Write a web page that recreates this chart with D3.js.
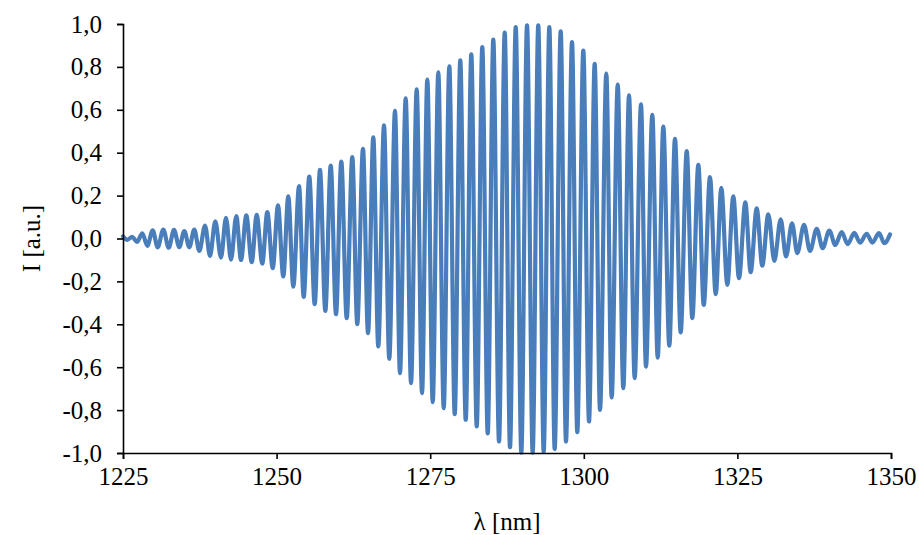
<!DOCTYPE html>
<html>
<head>
<meta charset="utf-8">
<script src="https://cdn.jsdelivr.net/npm/d3@7/dist/d3.min.js"></script>
<style>
  html, body { margin: 0; padding: 0; background: #ffffff; }
  svg { display: block; }
  text { font-family: "Liberation Serif", "Times New Roman", serif; fill: #000; }
</style>
</head>
<body>
<svg id="chart" width="919" height="535"></svg>
<script>
// Extrema of the fringe signal (wavelength in nm, intensity in a.u.)
const wavelength = [
  1225.00, 1225.70, 1226.51, 1227.28, 1228.14, 1228.96, 1229.83, 1230.65, 1231.56, 1232.44,
  1233.30, 1234.16, 1234.98, 1235.79, 1236.60, 1237.42, 1238.35, 1239.16, 1240.02, 1240.95,
  1241.76, 1242.58, 1243.44, 1244.21, 1245.07, 1245.95, 1246.76, 1247.67, 1248.49, 1249.37,
  1250.23, 1251.09, 1251.90, 1252.72, 1253.65, 1254.41, 1255.32, 1256.20, 1257.06, 1257.93,
  1258.81, 1259.67, 1260.53, 1261.41, 1262.32, 1263.13, 1264.06, 1264.88, 1265.74, 1266.55,
  1267.48, 1268.34, 1269.27, 1270.08, 1271.01, 1271.88, 1272.80, 1273.67, 1274.53, 1275.41,
  1276.32, 1277.20, 1278.11, 1278.99, 1279.90, 1280.78, 1281.69, 1282.57, 1283.48, 1284.36,
  1285.27, 1286.20, 1287.13, 1287.99, 1288.92, 1289.83, 1290.76, 1291.68, 1292.59, 1293.47,
  1294.39, 1295.26, 1296.24, 1297.10, 1298.08, 1298.94, 1299.92, 1300.85, 1301.77, 1302.64,
  1303.66, 1304.54, 1305.52, 1306.43, 1307.36, 1308.28, 1309.31, 1310.12, 1311.15, 1312.03,
  1312.94, 1313.92, 1314.84, 1315.77, 1316.75, 1317.66, 1318.64, 1319.52, 1320.54, 1321.47,
  1322.38, 1323.36, 1324.33, 1325.26, 1326.29, 1327.16, 1328.14, 1329.05, 1330.03, 1331.01,
  1332.05, 1332.91, 1333.89, 1334.75, 1335.84, 1336.82, 1337.91, 1338.88, 1339.96, 1340.93,
  1341.97, 1342.95, 1344.03, 1344.95, 1346.05, 1346.96, 1348.05, 1348.91, 1349.84
];
const intensity = [
   0.010, -0.006,  0.008, -0.016,  0.024, -0.034,  0.038, -0.041,  0.042, -0.043,
   0.040, -0.040,  0.035, -0.041,  0.042, -0.058,  0.060, -0.081,  0.080, -0.089,
   0.096, -0.099,  0.105, -0.100,  0.108, -0.110,  0.110, -0.117,  0.123, -0.138,
   0.154, -0.177,  0.197, -0.225,  0.244, -0.272,  0.289, -0.306,  0.320, -0.337,
   0.340, -0.353,  0.359, -0.371,  0.379, -0.399,  0.418, -0.441,  0.472, -0.503,
   0.527, -0.561,  0.595, -0.628,  0.653, -0.674,  0.695, -0.721,  0.741, -0.763,
   0.775, -0.791,  0.803, -0.819,  0.830, -0.845,  0.858, -0.876,  0.892, -0.909,
   0.927, -0.946,  0.960, -0.973,  0.985, -0.998,  0.994, -0.998,  0.994, -0.993,
   0.985, -0.981,  0.966, -0.946,  0.916, -0.903,  0.876, -0.853,  0.814, -0.799,
   0.769, -0.741,  0.718, -0.698,  0.667, -0.651,  0.625, -0.597,  0.577, -0.555,
   0.522, -0.500,  0.465, -0.438,  0.407, -0.371,  0.343, -0.309,  0.286, -0.260,
   0.236, -0.216,  0.197, -0.185,  0.168, -0.157,  0.141, -0.126,  0.113, -0.104,
   0.089, -0.084,  0.071, -0.068,  0.064, -0.058,  0.045, -0.045,  0.037, -0.030,
   0.030, -0.026,  0.026, -0.019,  0.022, -0.019,  0.025, -0.022,  0.019
];
const xTicks = [1225, 1250, 1275, 1300, 1325, 1350];
const yTicks = [-1.0, -0.8, -0.6, -0.4, -0.2, 0.0, 0.2, 0.4, 0.6, 0.8, 1.0];
const xTitle = "λ [nm]";
const yTitle = "I [a.u.]";

const svg = d3.select("#chart");
const margin = { left: 123, right: 28, top: 24, bottom: 82 };
const W = 919, H = 535;

const x = d3.scaleLinear().domain([1225, 1350]).range([margin.left, W - margin.right]);
const y = d3.scaleLinear().domain([-1, 1]).range([H - margin.bottom, margin.top]);

const loc = d3.formatLocale({ decimal: ",", thousands: ".", grouping: [3], currency: ["", ""], minus: "-" });
const fmtY = loc.format(".1f");

const data = wavelength.map((w, i) => ({ w: w, v: intensity[i] }));

// line
const line = d3.line()
  .x(d => x(d.w))
  .y(d => y(d.v))
  .curve(d3.curveMonotoneX);

svg.append("path")
  .datum(data)
  .attr("d", line)
  .attr("fill", "none")
  .attr("stroke", "#4a7ebb")
  .attr("stroke-width", 4.2)
  .attr("stroke-linejoin", "round")
  .attr("stroke-linecap", "round");

// axes
const fontSize = 25;
const yAxis = svg.append("g")
  .attr("transform", `translate(${margin.left},0)`)
  .call(d3.axisLeft(y).tickValues(yTicks).tickFormat(fmtY).tickSize(6).tickPadding(15));
const xAxis = svg.append("g")
  .attr("transform", `translate(0,${H - margin.bottom})`)
  .call(d3.axisBottom(x).tickValues(xTicks).tickFormat(d3.format("d")).tickSize(6).tickPadding(8));

[yAxis, xAxis].forEach(g => {
  g.select(".domain").attr("stroke", "#000").attr("stroke-width", 1.6);
  g.selectAll(".tick line").attr("stroke", "#000").attr("stroke-width", 1.6);
  g.selectAll(".tick text")
    .attr("font-family", "'Liberation Serif', 'Times New Roman', serif")
    .attr("font-size", fontSize)
    .attr("fill", "#000");
});

svg.append("text")
  .attr("x", (margin.left + W - margin.right) / 2)
  .attr("y", 530)
  .attr("text-anchor", "middle")
  .attr("font-size", fontSize)
  .text(xTitle);

svg.append("text")
  .attr("transform", `translate(40,${(margin.top + H - margin.bottom) / 2}) rotate(-90)`)
  .attr("text-anchor", "middle")
  .attr("font-size", fontSize)
  .text(yTitle);
</script>
</body>
</html>
